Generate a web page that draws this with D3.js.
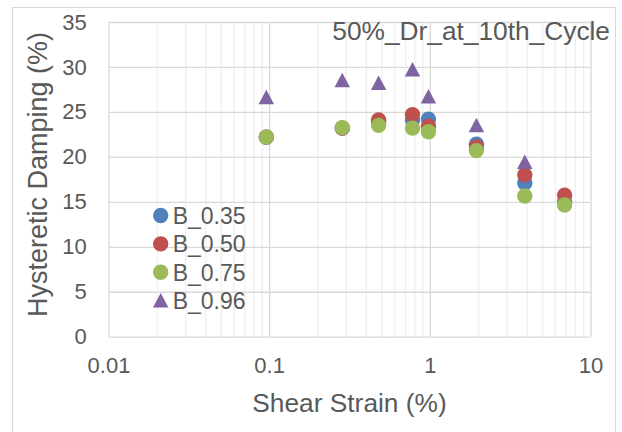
<!DOCTYPE html>
<html>
<head>
<meta charset="utf-8">
<script src="https://cdn.jsdelivr.net/npm/d3@7"></script>
<style>
  html, body { margin: 0; padding: 0; background: #fff; }
  svg { display: block; font-family: "Liberation Sans", Arial, sans-serif; }
</style>
</head>
<body>
<svg id="chart" width="622" height="432"></svg>
<script>
// Shear strain (%) at which damping was measured
const strain = [0.096, 0.285, 0.48, 0.78, 0.98, 1.95, 3.9, 6.9];

// Hysteretic damping (%) for each B value
const damp035 = [22.2, 23.2, 23.8, 24.1, 24.2, 21.4, 17.1, 15.0];
const damp050 = [22.2, 23.2, 24.1, 24.7, 23.4, 21.1, 18.0, 15.75];
const damp075 = [22.2, 23.25, 23.5, 23.2, 22.8, 20.7, 15.65, 14.65];
const damp096 = [26.6, 28.5, 28.2, 29.7, 26.7, 23.5, 19.4];

const seriesNames = ["B_0.35", "B_0.50", "B_0.75", "B_0.96"];
const seriesColors = ["#4F81BD", "#C0504D", "#9BBB59", "#8064A2"];
const seriesShapes = ["circle", "circle", "circle", "triangle"];

const xTicks = [0.01, 0.1, 1, 10];
const xTickLabels = ["0.01", "0.1", "1", "10"];
const yTicks = [0, 5, 10, 15, 20, 25, 30, 35];

const chartTitle = "50%_Dr_at_10th_Cycle";
const xTitle = "Shear Strain (%)";
const yTitle = "Hysteretic Damping (%)";

const series = [damp035, damp050, damp075, damp096].map((vals, i) => ({
  name: seriesNames[i],
  color: seriesColors[i],
  shape: seriesShapes[i],
  points: vals.map((v, j) => ({ x: strain[j], y: v }))
}));

const svg = d3.select("#chart");
const plot = { left: 108.5, right: 590.5, top: 22, bottom: 336.7 };
const textColor = "#595959";

// outer chart frame
svg.append("rect")
  .attr("x", 12.5).attr("y", 7.5)
  .attr("width", 603).attr("height", 440)
  .attr("fill", "#fff").attr("stroke", "#d9d9d9").attr("stroke-width", 1);

const x = d3.scaleLog().domain([0.01, 10]).range([plot.left, plot.right]);
const y = d3.scaleLinear().domain([0, 35]).range([plot.bottom, plot.top]);

// minor vertical gridlines (2..9 within each decade)
const minorTicks = [];
[0.01, 0.1, 1].forEach(d => { for (let k = 2; k <= 9; k++) minorTicks.push(d * k); });
svg.append("g")
  .attr("transform", `translate(0,${plot.bottom})`)
  .call(d3.axisBottom(x).tickValues(minorTicks).tickSize(-(plot.bottom - plot.top)).tickFormat(""))
  .call(g => g.select(".domain").remove())
  .call(g => g.selectAll("line").attr("stroke", "#efefef").attr("stroke-width", 1.3));

// major vertical gridlines
svg.append("g")
  .attr("transform", `translate(0,${plot.bottom})`)
  .call(d3.axisBottom(x).tickValues(xTicks).tickSize(-(plot.bottom - plot.top)).tickFormat(""))
  .call(g => g.select(".domain").remove())
  .call(g => g.selectAll("line").attr("stroke", "#d9d9d9").attr("stroke-width", 1.3));

// horizontal gridlines
svg.append("g")
  .attr("transform", `translate(${plot.left},0)`)
  .call(d3.axisLeft(y).tickValues(yTicks).tickSize(-(plot.right - plot.left)).tickFormat(""))
  .call(g => g.select(".domain").remove())
  .call(g => g.selectAll("line").attr("stroke", "#d9d9d9").attr("stroke-width", 1.3));

// x axis labels
svg.append("g")
  .attr("transform", `translate(0,${plot.bottom})`)
  .call(d3.axisBottom(x).tickValues(xTicks).tickSize(0).tickPadding(20.5)
    .tickFormat((d, i) => xTickLabels[i]))
  .call(g => g.select(".domain").remove())
  .call(g => g.selectAll("text").attr("fill", textColor).style("font-size", "22px")
    .style("font-family", "'Liberation Sans', Arial, sans-serif"));

// y axis labels
svg.append("g")
  .attr("transform", `translate(${plot.left},0)`)
  .call(d3.axisLeft(y).tickValues(yTicks).tickSize(0).tickPadding(21.8))
  .call(g => g.select(".domain").remove())
  .call(g => g.selectAll("text").attr("fill", textColor).style("font-size", "22px")
    .style("font-family", "'Liberation Sans', Arial, sans-serif"));

// axis titles
svg.append("text")
  .attr("x", (plot.left + plot.right) / 2).attr("y", 411.7)
  .attr("text-anchor", "middle").attr("fill", textColor)
  .style("font-size", "26.3px").text(xTitle);

svg.append("text")
  .attr("transform", "translate(47,174.5) rotate(-90)")
  .attr("text-anchor", "middle").attr("fill", textColor)
  .style("font-size", "27px").text(yTitle);

// chart title
svg.append("text")
  .attr("x", 610).attr("y", 40)
  .attr("text-anchor", "end").attr("fill", textColor)
  .style("font-size", "26.3px").text(chartTitle);

// marker shapes
const triangleType = {
  draw(ctx, size) {
    const w = Math.sqrt(size);
    ctx.moveTo(0, -w / 2);
    ctx.lineTo(w / 2, w / 2 - 1);
    ctx.lineTo(-w / 2, w / 2 - 1);
    ctx.closePath();
  }
};
const markerPath = shape => shape === "triangle"
  ? d3.symbol().type(triangleType).size(15.5 * 15.5)()
  : d3.symbol().type(d3.symbolCircle).size(Math.PI * 7.7 * 7.7)();

// data markers
series.forEach(s => {
  svg.append("g")
    .selectAll("path")
    .data(s.points)
    .join("path")
    .attr("d", markerPath(s.shape))
    .attr("transform", d => `translate(${x(d.x)},${y(d.y)})`)
    .attr("fill", s.color);
});

// legend
const legend = svg.append("g").attr("transform", "translate(160.7,215.5)");
series.forEach((s, i) => {
  const row = legend.append("g").attr("transform", `translate(0,${i * 28.4})`);
  row.append("path").attr("d", markerPath(s.shape)).attr("fill", s.color);
  row.append("text")
    .attr("x", 12).attr("dy", "0.36em")
    .attr("fill", textColor).style("font-size", "23px")
    .text(s.name);
});
</script>
</body>
</html>
